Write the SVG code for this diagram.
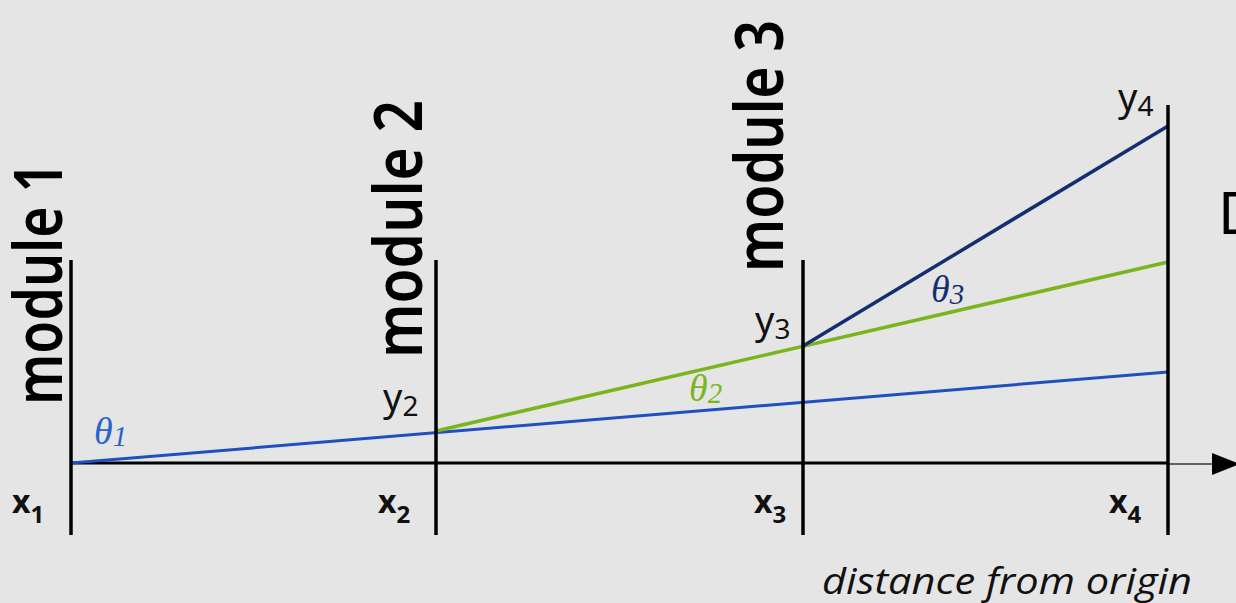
<svg xmlns="http://www.w3.org/2000/svg" width="1236" height="603" viewBox="0 0 1236 603">
<style>
.mod{font-family:"Noto Sans","DejaVu Sans",sans-serif;font-weight:600;font-size:66px;fill:#000}
.yl{font-family:"Noto Sans","DejaVu Sans",sans-serif;font-size:38px;fill:#111}
.ys{font-size:28px}
.xl{font-family:"Noto Sans","DejaVu Sans",sans-serif;font-weight:700;font-size:32px;fill:#111}
.xs{font-size:24px}
.th{font-family:"Liberation Serif","DejaVu Serif",serif;font-style:italic;font-size:38px}
.ths{font-size:29px}
.vl{stroke:#000;stroke-width:3.5;fill:none}
</style>
<rect width="1236" height="603" fill="#e5e5e5"/>
<g id="connectors">
<line x1="71" y1="463" x2="1168" y2="463" stroke="#000" stroke-width="3"/>
<line x1="1168" y1="464" x2="1214" y2="464" stroke="#333" stroke-width="1.5"/>
<polygon points="1212,453 1240,464 1212,475" fill="#000"/>
<line x1="71" y1="463" x2="1168" y2="372" stroke="#1f4fc0" stroke-width="3"/>
<line x1="436" y1="431" x2="1168" y2="262" stroke="#7ab51d" stroke-width="3.5"/>
<line x1="803" y1="346" x2="1168" y2="126" stroke="#132f70" stroke-width="3.5"/>
</g>
<g id="module1">
<line class="vl" x1="71" y1="260" x2="71" y2="535"/>
<text class="mod" transform="translate(62,405) rotate(-90)" textLength="243" lengthAdjust="spacingAndGlyphs">module 1</text>
<text class="xl" x="12" y="513">x<tspan class="xs" dy="10">1</tspan></text>
<text class="th" x="94" y="444" fill="#2a64c8">θ<tspan class="ths" dy="2">1</tspan></text>
</g>
<g id="module2">
<line class="vl" x1="436" y1="260" x2="436" y2="535"/>
<text class="mod" transform="translate(422,358) rotate(-90)" textLength="258" lengthAdjust="spacingAndGlyphs">module 2</text>
<text class="yl" x="383" y="411">y<tspan class="ys" dy="5">2</tspan></text>
<text class="xl" x="378" y="513">x<tspan class="xs" dy="10">2</tspan></text>
<text class="th" x="689" y="401" fill="#7ab51d">θ<tspan class="ths" dy="2">2</tspan></text>
</g>
<g id="module3">
<line class="vl" x1="803" y1="260" x2="803" y2="535"/>
<text class="mod" transform="translate(783,272) rotate(-90)" textLength="252" lengthAdjust="spacingAndGlyphs">module 3</text>
<text class="yl" x="755" y="334">y<tspan class="ys" dy="5">3</tspan></text>
<text class="xl" x="754" y="513">x<tspan class="xs" dy="10">3</tspan></text>
<text class="th" x="931" y="302" fill="#132f70">θ<tspan class="ths" dy="2">3</tspan></text>
</g>
<g id="module4">
<line class="vl" x1="1168" y1="105" x2="1168" y2="535"/>
<text class="yl" x="1118" y="111">y<tspan class="ys" dy="5">4</tspan></text>
<text class="xl" x="1109" y="513">x<tspan class="xs" dy="10">4</tspan></text>
<text x="1218" y="234" font-family="Noto Sans,DejaVu Sans,sans-serif" font-size="58" fill="#000">D</text>
</g>
<g id="caption">
<text x="822" y="594" font-family="Open Sans,Noto Sans,sans-serif" font-style="italic" font-size="36" fill="#111" textLength="370" lengthAdjust="spacingAndGlyphs">distance from origin</text>
</g>
</svg>
